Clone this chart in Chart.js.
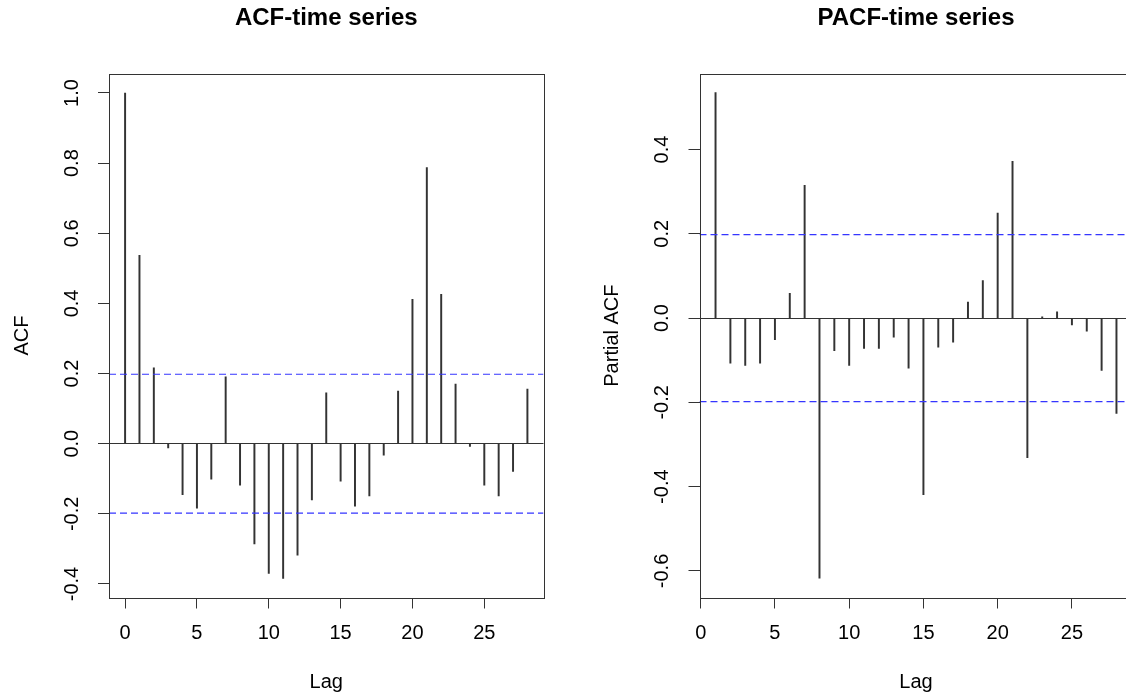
<!DOCTYPE html>
<html><head><meta charset="utf-8">
<script src="https://cdn.jsdelivr.net/npm/chart.js@4.4.0/dist/chart.umd.min.js"></script>
<style>
html,body{margin:0;padding:0;background:#fff;overflow:hidden;}
#wrap{position:relative;width:1126px;height:698px;overflow:hidden;background:#fff;}
#c1{position:absolute;left:0;top:0;width:563px;height:698px;}
#c2{position:absolute;left:590px;top:0;width:563px;height:698px;}
</style></head><body>
<div id="wrap"><canvas id="c1" width="563" height="698"></canvas><canvas id="c2" width="563" height="698"></canvas></div>
<script>
// ---- data ----
const ACF_LAGS = [0,1,2,3,4,5,6,7,8,9,10,11,12,13,14,15,16,17,18,19,20,21,22,23,24,25,26,27,28];
const ACF_VALUES = [1.000, 0.537, 0.216, -0.012, -0.145, -0.184, -0.101, 0.191, -0.118, -0.286,
  -0.370, -0.384, -0.318, -0.160, 0.145, -0.107, -0.178, -0.149, -0.033, 0.150,
  0.412, 0.787, 0.426, 0.170, -0.008, -0.118, -0.149, -0.079, 0.156];
const PACF_LAGS = [1,2,3,4,5,6,7,8,9,10,11,12,13,14,15,16,17,18,19,20,21,22,23,24,25,26,27,28];
const PACF_VALUES = [0.535, -0.107, -0.112, -0.107, -0.051, 0.059, 0.315, -0.617, -0.077, -0.112,
  -0.072, -0.072, -0.045, -0.119, -0.419, -0.069, -0.057, 0.038, 0.089, 0.249,
  0.372, -0.331, 0.003, 0.015, -0.016, -0.031, -0.124, -0.226];
const CI_LEVEL = 0.198;
const X_TICKS = [0, 5, 10, 15, 20, 25];
const ACF_Y_TICKS = [-0.4, -0.2, 0.0, 0.2, 0.4, 0.6, 0.8, 1.0];
const PACF_Y_TICKS = [-0.6, -0.4, -0.2, 0.0, 0.2, 0.4];
const TITLES = ['ACF-time series', 'PACF-time series'];
const Y_TITLES = ['ACF', 'Partial ACF'];
const X_TITLE = 'Lag';

// ---- drawing ----
const FONT = '"Liberation Sans", Arial, Helvetica, sans-serif';
const INK = '#333333';

const framePlugin = {
  id: 'frame',
  afterDatasetsDraw(chart) {
    const {ctx, chartArea: a} = chart;
    ctx.save();
    ctx.strokeStyle = INK;
    ctx.lineWidth = 1;
    ctx.strokeRect(Math.round(a.left) + 0.5, Math.round(a.top) + 0.5,
      Math.round(a.right) - Math.round(a.left), Math.round(a.bottom) - Math.round(a.top));
    ctx.restore();
  }
};

function makeChart(canvas, opt) {
  const pts = opt.lags.map((l, i) => ({x: l, y: opt.values[i]}));
  const ciUp = [{x: opt.xMin, y: CI_LEVEL}, {x: opt.xMax, y: CI_LEVEL}];
  const ciDn = [{x: opt.xMin, y: -CI_LEVEL}, {x: opt.xMax, y: -CI_LEVEL}];
  const ciStyle = {type: 'line', xAxisID: 'x', yAxisID: 'y', borderColor: '#3535ff', borderWidth: 1.2,
    borderDash: [7, 4], pointRadius: 0, fill: false, tension: 0};
  return new Chart(canvas, {
    type: 'bar',
    data: {
      datasets: [
        Object.assign({data: ciUp}, ciStyle),
        Object.assign({data: ciDn}, ciStyle),
        {type: 'bar', xAxisID: 'x', yAxisID: 'y', data: pts, backgroundColor: INK,
         borderWidth: 0, barThickness: 1.3}
      ]
    },
    options: {
      responsive: false,
      devicePixelRatio: 1,
      animation: false,
      layout: {padding: {left: 0, right: opt.padRight, top: 0, bottom: 0}},
      plugins: {legend: {display: false}, tooltip: {enabled: false}, title: {display: false}},
      scales: {
        x: {
          type: 'linear', position: 'bottom', min: opt.xMin, max: opt.xMax,
          offset: false,
          afterBuildTicks(s) { s.ticks = X_TICKS.map(v => ({value: v})); },
          ticks: {autoSkip: false, color: '#000', font: {family: FONT, size: 20}, padding: 12.8,
            maxRotation: 0, minRotation: 0, callback: v => String(v)},
          grid: {offset: false, drawOnChartArea: false, drawTicks: true, tickLength: 11,
            tickColor: INK, tickWidth: 1, color: INK},
          border: {display: false},
          title: {display: true, text: X_TITLE, color: '#000', font: {family: FONT, size: 20},
            padding: {top: 0, bottom: 3.3}},
          afterFit(s) { s.height = 100.5; }
        },
        y: {
          type: 'linear', position: 'left', min: opt.yMin, max: opt.yMax,
          afterBuildTicks(s) { s.ticks = opt.yTicks.map(v => ({value: v})); },
          ticks: {autoSkip: false, color: '#000', font: {family: FONT, size: 20}, padding: 8.5,
            minRotation: 90, maxRotation: 90, crossAlign: 'center',
            callback: v => Number(v).toFixed(1)},
          grid: {drawOnChartArea: true, drawTicks: true, tickLength: 11, tickColor: INK, tickWidth: 1,
            lineWidth: 1,
            color: c => (c.tick && Math.abs(c.tick.value) < 1e-9) ? INK : 'rgba(0,0,0,0)'},
          border: {display: false},
          title: {display: true, text: opt.yTitle, color: '#000', font: {family: FONT, size: 20},
            padding: {top: 10.5, bottom: 0}},
          afterFit(s) { s.width = opt.yAxisWidth; }
        },
        t: {
          type: 'linear', position: 'top', min: 0, max: 1,
          ticks: {display: false}, grid: {display: false}, border: {display: false},
          title: {display: true, text: opt.title, color: '#000',
            font: {family: FONT, size: 24, weight: 'bold'}, padding: {top: 4, bottom: 0}},
          afterFit(s) { s.height = 73.7; }
        }
      }
    },
    plugins: [framePlugin]
  });
}

makeChart(document.getElementById('c1'), {
  lags: ACF_LAGS, values: ACF_VALUES, yTicks: ACF_Y_TICKS,
  xMin: -1.12, xMax: 29.12, yMin: -0.4385, yMax: 1.055,
  title: TITLES[0], yTitle: Y_TITLES[0], yAxisWidth: 109, padRight: 19.5
});
makeChart(document.getElementById('c2'), {
  lags: PACF_LAGS, values: PACF_VALUES, yTicks: PACF_Y_TICKS,
  xMin: -0.08, xMax: 29.08, yMin: -0.663, yMax: 0.580,
  title: TITLES[1], yTitle: Y_TITLES[1], yAxisWidth: 109.5, padRight: 20.5
});
</script>
</body></html>
